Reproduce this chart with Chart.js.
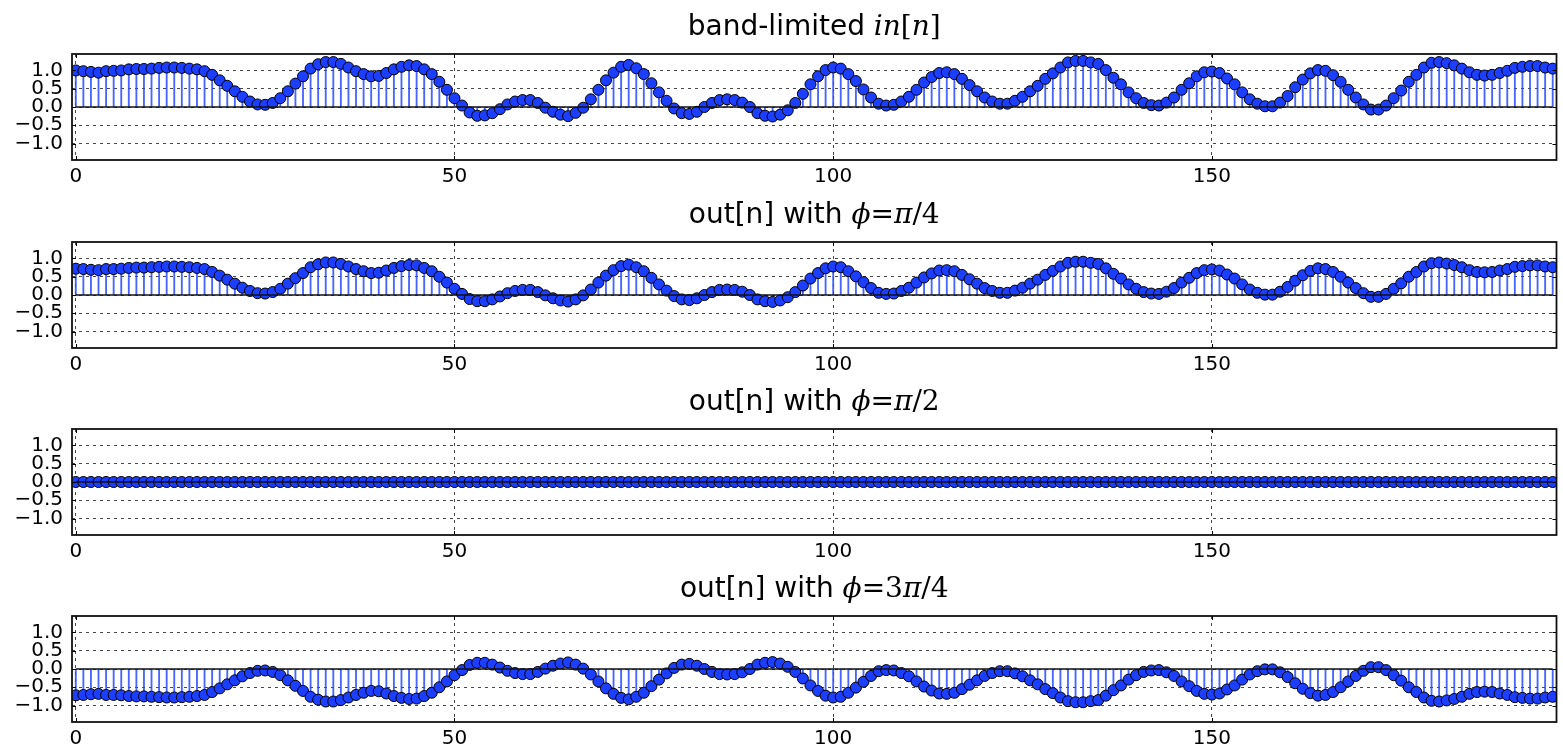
<!DOCTYPE html>
<html>
<head>
<meta charset="utf-8">
<script src="https://cdn.jsdelivr.net/npm/chart.js@4.4.1/dist/chart.umd.min.js"></script>
<style>
  html, body { margin: 0; padding: 0; background: #fff; }
  #wrap { position: relative; width: 1563px; height: 748px; overflow: hidden; }
  .panel { position: absolute; left: 0; width: 1563px; height: 187px; }
</style>
</head>
<body>
<div id="wrap">
  <div class="panel" style="top:0px"><canvas id="c0" width="1563" height="187"></canvas></div>
  <div class="panel" style="top:188px"><canvas id="c1" width="1563" height="187"></canvas></div>
  <div class="panel" style="top:375px"><canvas id="c2" width="1563" height="187"></canvas></div>
  <div class="panel" style="top:562px"><canvas id="c3" width="1563" height="187"></canvas></div>
</div>
<script>
// band-limited input
const inSignal = [
  1.00, 0.98, 0.96, 0.94, 0.98, 0.99, 1.00, 1.03, 1.04, 1.04,
  1.05, 1.07, 1.08, 1.08, 1.07, 1.05, 1.03, 0.98, 0.88, 0.73,
  0.58, 0.43, 0.28, 0.15, 0.07, 0.06, 0.11, 0.24, 0.43, 0.64,
  0.84, 1.05, 1.17, 1.23, 1.23, 1.18, 1.08, 0.98, 0.90, 0.84,
  0.85, 0.93, 1.03, 1.10, 1.14, 1.12, 1.03, 0.90, 0.69, 0.47,
  0.24, 0.04, -0.15, -0.24, -0.23, -0.17, -0.06, 0.07, 0.15, 0.19,
  0.19, 0.11, -0.02, -0.13, -0.21, -0.25, -0.16, -0.02, 0.21, 0.47,
  0.73, 0.94, 1.10, 1.15, 1.06, 0.90, 0.65, 0.40, 0.17, -0.04,
  -0.17, -0.19, -0.13, 0.00, 0.11, 0.19, 0.21, 0.19, 0.12, 0.00,
  -0.17, -0.24, -0.26, -0.21, -0.09, 0.11, 0.36, 0.62, 0.84, 1.01,
  1.08, 1.05, 0.90, 0.71, 0.48, 0.26, 0.09, 0.04, 0.06, 0.15,
  0.28, 0.47, 0.67, 0.82, 0.93, 0.95, 0.90, 0.77, 0.60, 0.43,
  0.26, 0.15, 0.09, 0.09, 0.17, 0.28, 0.43, 0.58, 0.77, 0.92,
  1.08, 1.22, 1.26, 1.26, 1.22, 1.18, 1.01, 0.80, 0.62, 0.40,
  0.24, 0.11, 0.05, 0.04, 0.12, 0.26, 0.47, 0.65, 0.84, 0.95,
  0.97, 0.93, 0.78, 0.62, 0.40, 0.21, 0.09, 0.02, 0.02, 0.12,
  0.30, 0.54, 0.75, 0.92, 1.01, 0.99, 0.87, 0.69, 0.47, 0.26,
  0.07, -0.07, -0.07, 0.04, 0.24, 0.45, 0.69, 0.88, 1.08, 1.21,
  1.23, 1.20, 1.14, 1.05, 0.95, 0.88, 0.86, 0.88, 0.93, 0.99,
  1.07, 1.10, 1.12, 1.12, 1.08, 1.05
];

// out[n], phi = pi/4
const outQuarter = [
  0.72, 0.71, 0.69, 0.68, 0.71, 0.71, 0.72, 0.74, 0.75, 0.75,
  0.76, 0.77, 0.78, 0.78, 0.77, 0.76, 0.74, 0.71, 0.63, 0.53,
  0.42, 0.31, 0.20, 0.11, 0.05, 0.04, 0.08, 0.17, 0.31, 0.46,
  0.60, 0.76, 0.84, 0.89, 0.89, 0.85, 0.78, 0.71, 0.65, 0.60,
  0.61, 0.67, 0.74, 0.79, 0.82, 0.81, 0.74, 0.65, 0.50, 0.34,
  0.17, 0.03, -0.11, -0.17, -0.17, -0.12, -0.04, 0.05, 0.11, 0.14,
  0.14, 0.08, -0.01, -0.09, -0.15, -0.18, -0.12, -0.01, 0.15, 0.34,
  0.53, 0.68, 0.79, 0.83, 0.76, 0.65, 0.47, 0.29, 0.12, -0.03,
  -0.12, -0.14, -0.09, 0.00, 0.08, 0.14, 0.15, 0.14, 0.09, 0.00,
  -0.12, -0.17, -0.19, -0.15, -0.06, 0.08, 0.26, 0.45, 0.60, 0.73,
  0.78, 0.76, 0.65, 0.51, 0.35, 0.19, 0.06, 0.03, 0.04, 0.11,
  0.20, 0.34, 0.48, 0.59, 0.67, 0.68, 0.65, 0.55, 0.43, 0.31,
  0.19, 0.11, 0.06, 0.06, 0.12, 0.20, 0.31, 0.42, 0.55, 0.66,
  0.78, 0.88, 0.91, 0.91, 0.88, 0.85, 0.73, 0.58, 0.45, 0.29,
  0.17, 0.08, 0.04, 0.03, 0.09, 0.19, 0.34, 0.47, 0.60, 0.68,
  0.70, 0.67, 0.56, 0.45, 0.29, 0.15, 0.06, 0.01, 0.01, 0.09,
  0.22, 0.39, 0.54, 0.66, 0.73, 0.71, 0.63, 0.50, 0.34, 0.19,
  0.05, -0.05, -0.05, 0.03, 0.17, 0.32, 0.50, 0.63, 0.78, 0.87,
  0.89, 0.86, 0.82, 0.76, 0.68, 0.63, 0.62, 0.63, 0.67, 0.71,
  0.77, 0.79, 0.81, 0.81, 0.78, 0.76
];

// out[n], phi = pi/2 (flat)
const outHalf = [
  0, 0, 0, 0, 0, 0, 0, 0, 0, 0, 0, 0, 0, 0, 0, 0, 0, 0, 0, 0, 0, 0, 0, 0, 0, 0, 0, 0,
  0, 0, 0, 0, 0, 0, 0, 0, 0, 0, 0, 0, 0, 0, 0, 0, 0, 0, 0, 0, 0, 0, 0, 0, 0, 0, 0, 0,
  0, 0, 0, 0, 0, 0, 0, 0, 0, 0, 0, 0, 0, 0, 0, 0, 0, 0, 0, 0, 0, 0, 0, 0, 0, 0, 0, 0,
  0, 0, 0, 0, 0, 0, 0, 0, 0, 0, 0, 0, 0, 0, 0, 0, 0, 0, 0, 0, 0, 0, 0, 0, 0, 0, 0, 0,
  0, 0, 0, 0, 0, 0, 0, 0, 0, 0, 0, 0, 0, 0, 0, 0, 0, 0, 0, 0, 0, 0, 0, 0, 0, 0, 0, 0,
  0, 0, 0, 0, 0, 0, 0, 0, 0, 0, 0, 0, 0, 0, 0, 0, 0, 0, 0, 0, 0, 0, 0, 0, 0, 0, 0, 0,
  0, 0, 0, 0, 0, 0, 0, 0, 0, 0, 0, 0, 0, 0, 0, 0, 0, 0, 0, 0, 0, 0, 0, 0, 0, 0, 0, 0
];

// out[n], phi = 3pi/4
const outThreeQuarter = [
  -0.72, -0.71, -0.69, -0.68, -0.71, -0.71, -0.72, -0.74, -0.75, -0.75,
  -0.76, -0.77, -0.78, -0.78, -0.77, -0.76, -0.74, -0.71, -0.63, -0.53,
  -0.42, -0.31, -0.20, -0.11, -0.05, -0.04, -0.08, -0.17, -0.31, -0.46,
  -0.60, -0.76, -0.84, -0.89, -0.89, -0.85, -0.78, -0.71, -0.65, -0.60,
  -0.61, -0.67, -0.74, -0.79, -0.82, -0.81, -0.74, -0.65, -0.50, -0.34,
  -0.17, -0.03, 0.11, 0.17, 0.17, 0.12, 0.04, -0.05, -0.11, -0.14,
  -0.14, -0.08, 0.01, 0.09, 0.15, 0.18, 0.12, 0.01, -0.15, -0.34,
  -0.53, -0.68, -0.79, -0.83, -0.76, -0.65, -0.47, -0.29, -0.12, 0.03,
  0.12, 0.14, 0.09, 0.00, -0.08, -0.14, -0.15, -0.14, -0.09, 0.00,
  0.12, 0.17, 0.19, 0.15, 0.06, -0.08, -0.26, -0.45, -0.60, -0.73,
  -0.78, -0.76, -0.65, -0.51, -0.35, -0.19, -0.06, -0.03, -0.04, -0.11,
  -0.20, -0.34, -0.48, -0.59, -0.67, -0.68, -0.65, -0.55, -0.43, -0.31,
  -0.19, -0.11, -0.06, -0.06, -0.12, -0.20, -0.31, -0.42, -0.55, -0.66,
  -0.78, -0.88, -0.91, -0.91, -0.88, -0.85, -0.73, -0.58, -0.45, -0.29,
  -0.17, -0.08, -0.04, -0.03, -0.09, -0.19, -0.34, -0.47, -0.60, -0.68,
  -0.70, -0.67, -0.56, -0.45, -0.29, -0.15, -0.06, -0.01, -0.01, -0.09,
  -0.22, -0.39, -0.54, -0.66, -0.73, -0.71, -0.63, -0.50, -0.34, -0.19,
  -0.05, 0.05, 0.05, -0.03, -0.17, -0.32, -0.50, -0.63, -0.78, -0.87,
  -0.89, -0.86, -0.82, -0.76, -0.68, -0.63, -0.62, -0.63, -0.67, -0.71,
  -0.77, -0.79, -0.81, -0.81, -0.78, -0.76
];

const sampleIdx = inSignal.map((_, i) => i);
const xTicks = [0, 50, 100, 150];
const yTicks = [-1.0, -0.5, 0.0, 0.5, 1.0];

const SANS = '28px "DejaVu Sans"';
const MATH_IT = 'italic 28px "DejaVu Serif"';
const MATH_RM = '28px "DejaVu Serif"';

const panels = [
  { id: 'c0', values: inSignal,
    title: [['band-limited ', SANS], ['in', MATH_IT], ['[', MATH_RM], ['n', MATH_IT], [']', MATH_RM]] },
  { id: 'c1', values: outQuarter,
    title: [['out[n] with ', SANS], ['\u03d5', MATH_IT], ['=', MATH_RM], ['\u03c0', MATH_IT], ['/4', MATH_RM]] },
  { id: 'c2', values: outHalf,
    title: [['out[n] with ', SANS], ['\u03d5', MATH_IT], ['=', MATH_RM], ['\u03c0', MATH_IT], ['/2', MATH_RM]] },
  { id: 'c3', values: outThreeQuarter,
    title: [['out[n] with ', SANS], ['\u03d5', MATH_IT], ['=3', MATH_RM], ['\u03c0', MATH_IT], ['/4', MATH_RM]] }
];

const BLUE = 'rgb(28, 62, 255)';

function fmtY(v) {
  return (v < 0 ? '\u2212' : '') + Math.abs(v).toFixed(1);
}

// frame, baseline, inward ticks and the mixed-font title
const decorPlugin = {
  id: 'decor',
  afterDatasetsDraw(chart) {
    const ctx = chart.ctx;
    const a = chart.chartArea;
    const xs = chart.scales.x, ys = chart.scales.y;
    ctx.save();
    // stem baseline
    const y0 = ys.getPixelForValue(0);
    ctx.strokeStyle = '#111';
    ctx.lineWidth = 1.5;
    ctx.beginPath();
    ctx.moveTo(xs.getPixelForValue(sampleIdx[0]), y0);
    ctx.lineTo(xs.getPixelForValue(sampleIdx[sampleIdx.length - 1]), y0);
    ctx.stroke();
    // tick marks inside the box
    ctx.lineWidth = 1;
    ctx.strokeStyle = '#000';
    ctx.beginPath();
    yTicks.forEach(v => {
      const p = Math.round(ys.getPixelForValue(v)) + 0.5;
      ctx.moveTo(a.left, p); ctx.lineTo(a.left + 4, p);
      ctx.moveTo(a.right, p); ctx.lineTo(a.right - 4, p);
    });
    xTicks.forEach(v => {
      const p = Math.round(xs.getPixelForValue(v)) + 0.5;
      ctx.moveTo(p, a.top); ctx.lineTo(p, a.top + 4);
      ctx.moveTo(p, a.bottom); ctx.lineTo(p, a.bottom - 4);
    });
    ctx.stroke();
    // box
    ctx.lineWidth = 1.8;
    ctx.strokeStyle = '#111';
    ctx.strokeRect(a.left, a.top, a.right - a.left, a.bottom - a.top);
    ctx.restore();
  },
  afterDraw(chart, args, opts) {
    const ctx = chart.ctx;
    const a = chart.chartArea;
    const parts = opts.parts || [];
    ctx.save();
    let total = 0;
    const widths = parts.map(([t, f]) => { ctx.font = f; const w = ctx.measureText(t).width; total += w; return w; });
    let x = (a.left + a.right) / 2 - total / 2;
    ctx.fillStyle = '#000';
    ctx.textAlign = 'left';
    ctx.textBaseline = 'alphabetic';
    parts.forEach(([t, f], i) => { ctx.font = f; ctx.fillText(t, x, 35); x += widths[i]; });
    ctx.restore();
  }
};

const gridOpts = { color: '#333', lineWidth: 0.9, drawTicks: false, offset: false };
const borderOpts = { display: false, dash: [3, 4] };
const tickFont = { family: 'DejaVu Sans', size: 20 };

panels.forEach(p => {
  new Chart(document.getElementById(p.id), {
    type: 'bar',
    data: {
      datasets: [
        {
          type: 'line',
          data: sampleIdx.map((n, i) => ({ x: n, y: p.values[i] })),
          showLine: false,
          pointRadius: 5.5,
          pointBorderWidth: 1,
          pointBorderColor: '#000',
          pointBackgroundColor: BLUE,
          order: 0
        },
        {
          type: 'bar',
          data: sampleIdx.map((n, i) => ({ x: n, y: p.values[i] })),
          backgroundColor: 'rgba(40, 75, 255, 0.85)',
          barThickness: 1.2,
          order: 1
        }
      ]
    },
    options: {
      responsive: false,
      animation: false,
      events: [],
      devicePixelRatio: 1,
      layout: { padding: { top: 54, right: 2, left: 0, bottom: 0 } },
      scales: {
        x: {
          type: 'linear',
          min: -0.5,
          max: 195.5,
          offset: false,
          afterBuildTicks: s => { s.ticks = xTicks.map(v => ({ value: v })); },
          afterFit: s => { s.height = 27; },
          grid: gridOpts,
          border: borderOpts,
          ticks: { padding: 5, maxRotation: 0, autoSkip: false, color: '#000', font: tickFont,
                   callback: v => String(v) }
        },
        y: {
          min: -1.45,
          max: 1.45,
          afterBuildTicks: s => { s.ticks = yTicks.map(v => ({ value: v })); },
          afterFit: s => { s.width = 72; },
          grid: gridOpts,
          border: borderOpts,
          ticks: { padding: 9, autoSkip: false, color: '#000', font: tickFont,
                   callback: v => fmtY(v) }
        }
      },
      plugins: {
        legend: { display: false },
        tooltip: { enabled: false },
        decor: { parts: p.title }
      }
    },
    plugins: [decorPlugin]
  });
});
</script>
</body>
</html>
